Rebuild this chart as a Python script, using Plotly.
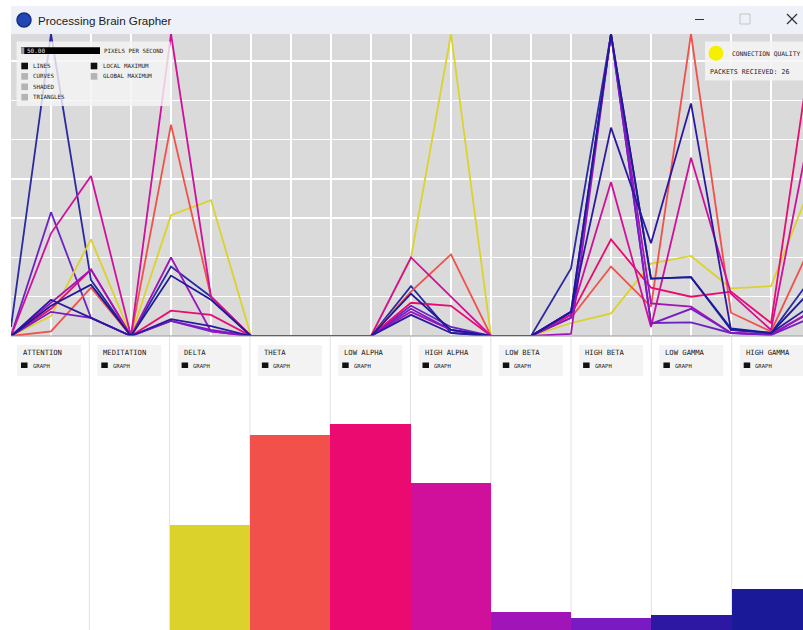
import plotly.graph_objects as go

W, H = 803, 630

# ---------------- data ----------------
channels = ["ATTENTION", "MEDITATION", "DELTA", "THETA", "LOW ALPHA",
            "HIGH ALPHA", "LOW BETA", "HIGH BETA", "LOW GAMMA", "HIGH GAMMA"]
colors = ["#2a2aa2", "#6a24c4", "#dcd22c", "#f2504a", "#ea0a70",
          "#d0109a", "#a014b8", "#7a1ac2", "#2c18a2", "#1a1a98"]

# normalised history (percent of local maximum), one sample per step
attention  = [3, 100, 18.5, 0, 23, 13, 0, 0, 0, 0, 16.5, 1, 0, 0, 22.4, 100, 19, 19.5, 2, 1, 19]
meditation = [0, 41, 6, 0, 5, 1.5, 0, 0, 0, 0, 10, 3, 0, 0, 8, 100, 4.3, 4.5, 1, 0.5, 8]
delta      = [0, 6.6, 32, 0, 40, 45, 0, 0, 0, 0, 26, 100, 0, 0, 4.3, 7.5, 24, 26.5, 15.8, 16.5, 50]
theta      = [0, 1.5, 16, 0, 70, 13, 0, 0, 0, 0, 14.7, 27, 0, 0, 6, 23, 9.7, 100, 7.7, 1.5, 30]
low_alpha  = [0, 9, 22, 0, 8.4, 7, 0, 0, 0, 0, 11, 10, 0, 0, 7, 32, 16, 13, 14.7, 4.3, 95]
high_alpha = [0, 34, 53, 0, 100, 13, 0, 0, 0, 0, 26, 13, 0, 0, 7, 51, 3, 59, 14, 2, 70]
low_beta   = [0, 11, 22, 0, 26, 1.5, 0, 0, 0, 0, 8, 2, 0, 0, 0.7, 100, 10.8, 9.7, 1, 0.5, 8]
high_beta  = [0, 8, 6, 0, 5, 2, 0, 0, 0, 0, 9, 2, 0, 0, 6, 100, 4, 9, 1, 0.3, 6]
low_gamma  = [0, 12, 6, 0, 5.6, 3.3, 0, 0, 0, 0, 7, 1, 0, 0, 8, 69, 30.7, 77, 2, 1, 10]
high_gamma = [0, 10, 17, 0, 20, 12, 0, 0, 0, 0, 14, 2, 0, 0, 8, 100, 19, 19.5, 2.5, 1, 15]

series = [attention, meditation, delta, theta, low_alpha,
          high_alpha, low_beta, high_beta, low_gamma, high_gamma]

# current band power (relative units)
current = [0, 0, 41.3, 76.8, 81.1, 57.8, 7.2, 4.6, 5.8, 16.1]

packets = 26
pixels_per_second = "50.00"

# ---------------- helpers (window pixels -> paper) ----------------
def px(x):
    return x / W

def py(y):
    return 1 - y / H

fig = go.Figure()

steps = list(range(len(attention)))
for name, vals, col in zip(channels, series, colors):
    fig.add_trace(go.Scatter(x=steps, y=vals, mode="lines", name=name,
                             line=dict(color=col, width=1.8),
                             xaxis="x", yaxis="y", showlegend=False,
                             hoverinfo="skip"))

fig.add_trace(go.Bar(x=list(range(len(channels))), y=current,
                     marker=dict(color=colors, line=dict(width=0)),
                     width=1, xaxis="x2", yaxis="y2", showlegend=False,
                     hoverinfo="skip"))

PL, PT, PB = 11, 34, 336
COL0, COLW = 9, 80.3
BAR_TOP = 376

fig.update_layout(
    width=W, height=H,
    margin=dict(l=0, r=0, t=0, b=0),
    paper_bgcolor="white",
    plot_bgcolor="rgba(0,0,0,0)",
    bargap=0,
    xaxis=dict(domain=[px(PL), 1], range=[0, (W - PL) / 40], dtick=1, tick0=0,
               showgrid=True, gridcolor="white", gridwidth=1.5,
               zeroline=False, showticklabels=False, ticks="", fixedrange=True),
    yaxis=dict(domain=[py(PB), py(PT)], range=[0, 100], dtick=13.0, tick0=0,
               showgrid=True, gridcolor="white", gridwidth=1.5,
               zeroline=False, showticklabels=False, ticks=""),
    xaxis2=dict(domain=[px(COL0), 1], range=[-0.5, -0.5 + (W - COL0) / COLW],
                showgrid=False, zeroline=False, showticklabels=False, anchor="y2"),
    yaxis2=dict(domain=[0, py(BAR_TOP)], range=[0, 100],
                showgrid=False, zeroline=False, showticklabels=False, anchor="x2"),
)

shapes = []
ann = []

def rect(x0, y0, x1, y1, fill, line=None, layer="above", lw=0):
    shapes.append(dict(type="rect", xref="paper", yref="paper",
                       x0=px(x0), x1=px(x1), y0=py(y1), y1=py(y0),
                       fillcolor=fill, layer=layer,
                       line=dict(color=line or fill, width=lw)))

def line(x0, y0, x1, y1, color, width=1, layer="above"):
    shapes.append(dict(type="line", xref="paper", yref="paper",
                       x0=px(x0), x1=px(x1), y0=py(y0), y1=py(y1),
                       layer=layer, line=dict(color=color, width=width)))

def text(x, y, s, size=6, color="#222222", family="DejaVu Sans Mono"):
    ann.append(dict(x=px(x), y=py(y), xref="paper", yref="paper", text=s,
                    showarrow=False, xanchor="left", yanchor="middle",
                    font=dict(size=size, color=color, family=family)))

# grey background of the line graph
rect(PL, PT, W + 2, PB, "#dadada", layer="below")

# window chrome
rect(PL, 6, W + 2, PT, "#eef2f8")
shapes.append(dict(type="circle", xref="paper", yref="paper",
                   x0=px(17), x1=px(31), y0=py(27), y1=py(13),
                   fillcolor="#2346b4", line=dict(color="#15307f", width=1.5),
                   layer="above"))
ann.append(dict(x=px(35.5), y=py(20), xref="paper", yref="paper",
                text="Processing Brain Grapher", showarrow=False,
                xanchor="left", yanchor="middle",
                font=dict(size=11.6, color="#1a1a1a", family="Liberation Sans")))
line(695, 19.5, 704, 19.5, "#333333", 1)
rect(740, 14, 750, 24, "rgba(0,0,0,0)", "#c4c4c4", lw=1)
line(787, 14, 797, 24, "#333333", 1.2)
line(787, 24, 797, 14, "#333333", 1.2)

# bottom border of line plot
line(PL, PB, W + 2, PB, "#9a9a9a", 1.2)

# column separators and label boxes
for i, name in enumerate(channels):
    c0 = COL0 + COLW * i
    if i > 0:
        line(c0, PB + 1, c0, H + 2, "#e2e2e2", 1, layer="below")
    rect(c0 + 8, 345, c0 + 72, 376, "#f3f3f3", layer="below")
    text(c0 + 12, 352.5, name, size=7.2)
    rect(c0 + 12, 362.5, c0 + 18.5, 368, "#111111")
    text(c0 + 21.5, 365.5, "GRAPH", size=5.6)

# top-left control panel
rect(16.5, 41.5, 170, 106, "rgba(244,244,244,0.82)")
rect(21, 47.3, 100, 54, "#000000")
rect(21, 47.3, 24.3, 54, "#9a9a9a")
text(24.5, 50.8, pixels_per_second, size=6, color="#e6e6e6")
text(102, 50.8, "PIXELS PER SECOND", size=5.8)
left_opts = [("LINES", True), ("CURVES", False), ("SHADED", False), ("TRIANGLES", False)]
for k, (lab, on) in enumerate(left_opts):
    yc = 66 + 10.4 * k
    rect(21.3, yc - 3.3, 28, yc + 3.3, "#111111" if on else "#b4b4b4")
    text(30.5, yc, lab, size=5.8)
right_opts = [("LOCAL MAXIMUM", True), ("GLOBAL MAXIMUM", False)]
for k, (lab, on) in enumerate(right_opts):
    yc = 66 + 10.4 * k
    rect(90.7, yc - 3.3, 97.3, yc + 3.3, "#111111" if on else "#b4b4b4")
    text(100.5, yc, lab, size=5.8)

# top-right status panel
rect(705, 41.5, W + 2, 80.5, "rgba(244,244,244,0.85)")
shapes.append(dict(type="circle", xref="paper", yref="paper",
                   x0=px(708.5), x1=px(723.5), y0=py(60.8), y1=py(45.8),
                   fillcolor="#f5f000", line=dict(color="#f5f000", width=0),
                   layer="above"))
text(729.5, 53.3, "CONNECTION QUALITY", size=6.3)
text(708.3, 72.3, "PACKETS RECIEVED: %d" % packets, size=6.6)

fig.update_layout(shapes=shapes, annotations=ann)

page_css = ("document.documentElement.style.margin='0';"
            "document.documentElement.style.overflow='hidden';"
            "document.body.style.margin='0';"
            "document.body.style.overflow='hidden';")
fig.write_html("out.html", post_script=page_css,
               config={"displayModeBar": False, "staticPlot": True})
